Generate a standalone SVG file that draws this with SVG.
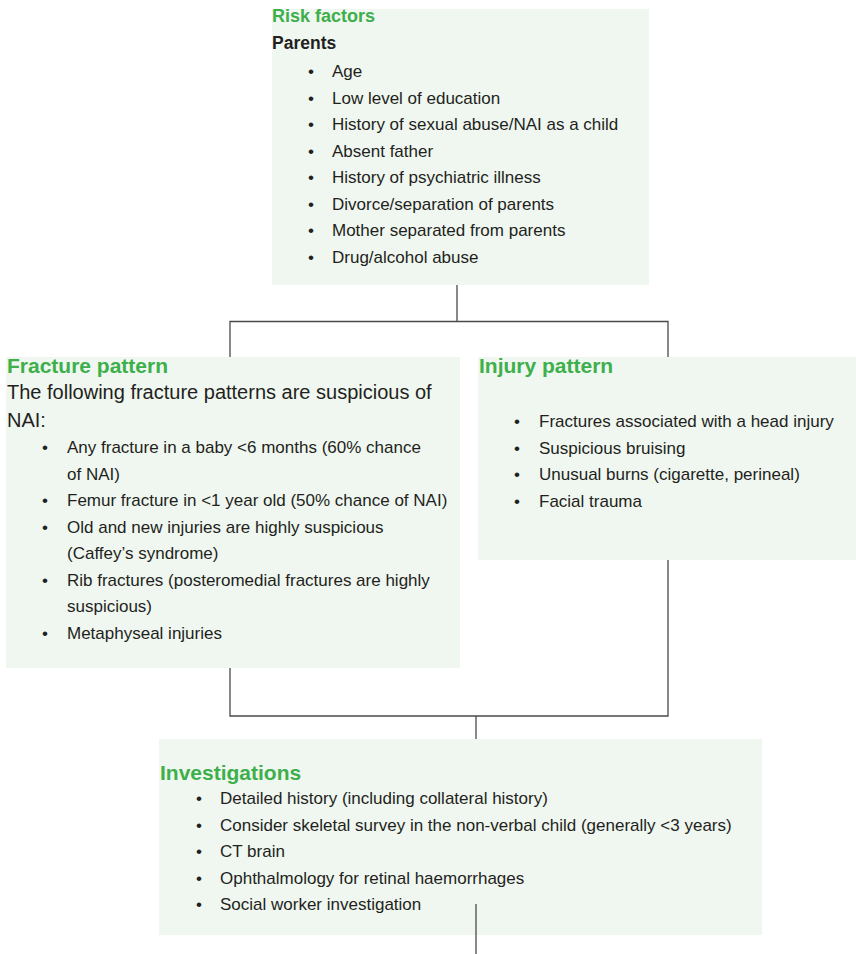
<svg xmlns="http://www.w3.org/2000/svg" width="856" height="954" viewBox="0 0 856 954">
<style>
.box{fill:#f0f7f1}
.ttl{font-family:"Liberation Sans",Arial,sans-serif;font-weight:bold;fill:#3daf4b}
.t{font-family:"Liberation Sans",Arial,sans-serif;fill:#231f20}
.b{font-family:"Liberation Sans",Arial,sans-serif;font-size:17px;fill:#231f20}
.ln{stroke:#4a4a4a;stroke-width:1.3;fill:none}
</style>
<rect width="856" height="954" fill="#ffffff"/>
<g id="risk-factors">
<rect class="box" x="272" y="9" width="377" height="276"/>
<text class="ttl" x="272" y="22" font-size="18">Risk factors</text>
<text class="t" x="272" y="49" font-weight="bold" font-size="17.5">Parents</text>
<g class="b">
<text x="308" y="77">•</text><text x="332" y="77">Age</text>
<text x="308" y="103.5">•</text><text x="332" y="103.5">Low level of education</text>
<text x="308" y="130">•</text><text x="332" y="130">History of sexual abuse/NAI as a child</text>
<text x="308" y="156.5">•</text><text x="332" y="156.5">Absent father</text>
<text x="308" y="183">•</text><text x="332" y="183">History of psychiatric illness</text>
<text x="308" y="209.5">•</text><text x="332" y="209.5">Divorce/separation of parents</text>
<text x="308" y="236">•</text><text x="332" y="236">Mother separated from parents</text>
<text x="308" y="262.5">•</text><text x="332" y="262.5">Drug/alcohol abuse</text>
</g>
</g>
<g id="fracture-pattern">
<rect class="box" x="6" y="357" width="454" height="311"/>
<text class="ttl" x="7" y="373" font-size="21">Fracture pattern</text>
<text class="t" x="7" y="399" font-size="20">The following fracture patterns are suspicious of</text>
<text class="t" x="7" y="427" font-size="20">NAI:</text>
<g class="b">
<text x="42" y="453">•</text><text x="67" y="453">Any fracture in a baby &lt;6 months (60% chance</text>
<text x="67" y="479.5">of NAI)</text>
<text x="42" y="506">•</text><text x="67" y="506">Femur fracture in &lt;1 year old (50% chance of NAI)</text>
<text x="42" y="532.5">•</text><text x="67" y="532.5">Old and new injuries are highly suspicious</text>
<text x="67" y="559">(Caffey’s syndrome)</text>
<text x="42" y="585.5">•</text><text x="67" y="585.5">Rib fractures (posteromedial fractures are highly</text>
<text x="67" y="612">suspicious)</text>
<text x="42" y="638.5">•</text><text x="67" y="638.5">Metaphyseal injuries</text>
</g>
</g>
<g id="injury-pattern">
<rect class="box" x="478" y="357" width="378" height="203"/>
<text class="ttl" x="479" y="373" font-size="21">Injury pattern</text>
<g class="b">
<text x="514" y="427">•</text><text x="539" y="427">Fractures associated with a head injury</text>
<text x="514" y="453.5">•</text><text x="539" y="453.5">Suspicious bruising</text>
<text x="514" y="480">•</text><text x="539" y="480">Unusual burns (cigarette, perineal)</text>
<text x="514" y="506.5">•</text><text x="539" y="506.5">Facial trauma</text>
</g>
</g>
<g id="investigations">
<rect class="box" x="159" y="739" width="603" height="196"/>
<text class="ttl" x="160" y="780" font-size="21">Investigations</text>
<g class="b">
<text x="196" y="804">•</text><text x="220" y="804">Detailed history (including collateral history)</text>
<text x="196" y="830.5">•</text><text x="220" y="830.5">Consider skeletal survey in the non-verbal child (generally &lt;3 years)</text>
<text x="196" y="857">•</text><text x="220" y="857">CT brain</text>
<text x="196" y="883.5">•</text><text x="220" y="883.5">Ophthalmology for retinal haemorrhages</text>
<text x="196" y="910">•</text><text x="220" y="910">Social worker investigation</text>
</g>
</g>
<g id="connectors">
<path class="ln" d="M457,285 V321.5"/>
<path class="ln" d="M230,357 V321.5 H668 V357"/>
<path class="ln" d="M230,668 V716 H668 V560"/>
<path class="ln" d="M476,716 V739"/>
<path class="ln" d="M476,904 V954"/>
</g>
</svg>
